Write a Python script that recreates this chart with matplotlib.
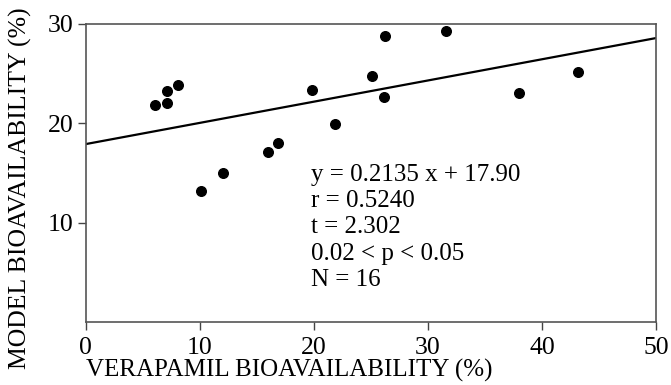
import numpy as np
import matplotlib.pyplot as plt

plt.rcParams['font.family'] = ['Liberation Serif', 'DejaVu Serif']

verapamil = [6.1, 7.1, 7.1, 8.1, 10.1, 12.0, 16.0, 16.8, 19.8, 21.8,
             25.1, 26.1, 26.2, 31.6, 38.0, 43.1]
model = [21.8, 23.2, 22.0, 23.8, 13.2, 15.0, 17.1, 18.0, 23.3, 19.9,
         24.8, 22.6, 28.8, 29.3, 23.0, 25.2]

slope = 0.2135
intercept = 17.90

stats_text = ["y = 0.2135 x + 17.90", "r = 0.5240", "t = 2.302",
              "0.02 < p < 0.05", "N = 16"]

fig = plt.figure(figsize=(6.71, 3.85), dpi=100)
ax = fig.add_axes([0.128, 0.164, 0.85, 0.774])

ax.scatter(verapamil, model, s=48, color='black', zorder=3)

x_line = np.array([0, 50])
ax.plot(x_line, slope * x_line + intercept, color='black', linewidth=1.6)

ax.set_xlim(0, 50)
ax.set_ylim(0, 30)
ax.set_xticks([0, 10, 20, 30, 40, 50])
ax.set_yticks([10, 20, 30])
ax.tick_params(direction='out', length=6, width=1, labelsize=18.5,
               color='#444444')
ax.tick_params(axis='x', pad=5)
ax.tick_params(axis='y', pad=3)
for sp in ax.spines.values():
    sp.set_color('#555555')
    sp.set_linewidth(1.2)

ax.set_xlabel('VERAPAMIL BIOAVAILABILITY (%)', fontsize=18, loc='left',
              labelpad=0)
ax.set_ylabel('MODEL BIOAVAILABILITY (%)', fontsize=18.5)
ax.yaxis.set_label_coords(-0.095, 0.449)

ax.text(19.7, 15.9, "\n".join(stats_text), fontsize=18, va='top', ha='left',
        linespacing=1.25)

fig.savefig('out.png', dpi=100)
